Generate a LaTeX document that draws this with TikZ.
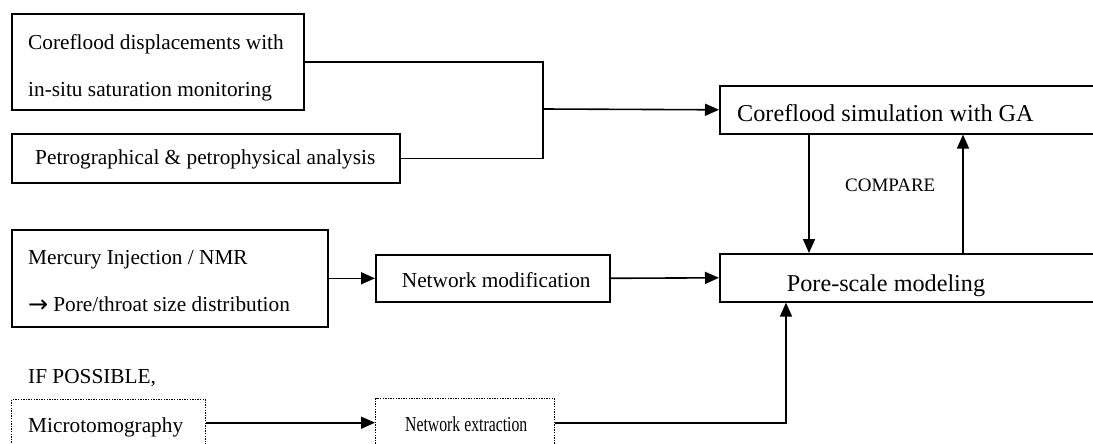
\documentclass[tikz,border=0pt]{standalone}
\usepackage{fontspec}
\setmainfont{Liberation Serif}
\newfontfamily\arrowfont{DejaVu Sans}
\usetikzlibrary{arrows.meta}
\begin{document}
\begin{tikzpicture}[x=1pt,y=-1pt,
  box/.style={draw,line width=1.6pt,inner sep=0pt,anchor=north west},
  dotbox/.style={box,line width=1.4pt,dash pattern=on 1.3pt off 1.3pt},
  txt/.style={inner sep=0pt,anchor=base west,font=\fontsize{21.3}{24}\selectfont},
  bigtxt/.style={txt,font=\fontsize{24.2}{28}\selectfont},
  smalltxt/.style={txt,font=\fontsize{19}{22}\selectfont},
  link/.style={line width=1.6pt},
  arrow/.style={link,-{Triangle[length=14pt,width=12pt]}}]
\useasboundingbox (0,0) rectangle (1093,444);

% boxes
\node[box,minimum width=292pt,minimum height=96pt] (core) at (11,13) {};
\node[box,minimum width=388pt,minimum height=49pt] (petro) at (11,133) {};
\node[box,minimum width=316pt,minimum height=97pt] (merc) at (11,229) {};
\node[box,minimum width=234pt,minimum height=47pt] (nm) at (375,254) {};
\node[box,minimum width=391pt,minimum height=48pt] (sim) at (719,85) {};
\node[box,minimum width=391pt,minimum height=48pt] (pore) at (719,253) {};
\node[dotbox,minimum width=194pt,minimum height=46pt] (micro) at (11,399) {};
\node[dotbox,minimum width=179pt,minimum height=48pt] (netx) at (375,398) {};

% texts
\node[txt] (coreA) at (28,49.3) {Coreflood displacements with};
\node[txt] (coreB) at (28,96.7) {in-situ saturation monitoring};
\node[txt] (petroT) at (35,164.3) {Petrographical \& petrophysical analysis};
\node[txt] (mercA) at (28,264.3) {Mercury Injection / NMR};
\node[txt] (mercB) at (28,311.7) {\raisebox{-1pt}{\arrowfont\fontsize{24}{28}\selectfont →}\hspace{5pt}Pore/throat size distribution};
\node[txt] (nmT) at (401.7,287.3) {Network modification};
\node[bigtxt] (simT) at (737,121.7) {Coreflood simulation with GA};
\node[bigtxt] (poreT) at (786.7,291.7) {Pore-scale modeling};
\node[smalltxt] (cmp) at (845,191.7) {COMPARE};
\node[txt] (ifp) at (28,383.3) {IF POSSIBLE,};
\node[txt] (microT) at (28,432) {Microtomography};
\node[txt] (netxT) at (405,431.7) {\scalebox{0.74}[1]{Network extraction}};

% connectors
\coordinate (join) at (543,109);
\draw[link] (core.east) -| (join);
\draw[link] (petro.east) -| (join);
\draw[arrow] (join) -- (sim.west);
\draw[arrow] ([xshift=90pt]sim.south west) -- ([xshift=90pt]pore.north west);
\draw[arrow] ([xshift=244pt]pore.north west) -- ([xshift=244pt]sim.south west);
\draw[arrow] (merc.east) -- (nm.west);
\draw[arrow] (nm.east) -- (pore.west);
\draw[arrow] (micro.east) -- (netx.west);
\draw[arrow] (netx.east) -| ([xshift=67pt]pore.south west);
\end{tikzpicture}
\end{document}
